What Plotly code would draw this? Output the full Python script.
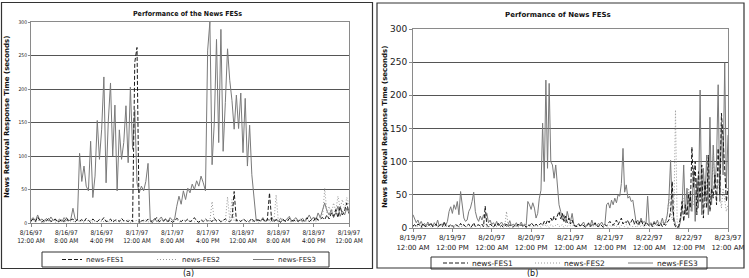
import pandas as pd
import plotly.graph_objects as go

# ---------------- data: panel (a) 8/16/97 - 8/19/97, 30-minute samples ----------------
start_a = "1997-08-16 00:00"
n_a = 145
fes1_a = [3,6,2,9,4,1,5,3,7,2,4,6,1,3,5,2,8,3,4,6,2,5,
          3,5,2,7,4,1,6,3,2,5,4,8,2,3,6,1,4,5,2,7,3,4,2,5,
          2,240,262,0,3,
          4,2,6,3,1,5,8,2,4,3,6,2,5,1,3,7,4,2,5,3,6,2,4,8,3,1,5,2,6,3,4,2,7,3,5,2,4,6,3,2,5,
          47,
          3,5,2,6,4,1,3,7,2,5,4,3,6,2,4,
          45,
          3,2,5,4,1,6,3,2,7,4,3,5,2,6,3,4,8,2,5,3,9,4,6,
          8,5,12,6,15,10,20,8,25,12,18,30,14]
fes2_a = [2,4,1,3,5,2,1,4,3,2,5,1,3,2,4,1,3,5,2,3,1,4,
          2,3,1,5,2,4,1,3,2,6,1,3,4,2,1,5,3,2,4,1,3,2,5,1,2,3,
          4,1,3,2,5,2,1,3,4,2,1,5,3,2,4,1,3,2,6,1,3,4,2,5,1,3,2,4,1,3,5,2,4,3,
          32,
          3,2,5,1,4,2,
          39,4,35,
          2,4,1,3,5,2,4,1,3,2,6,1,3,4,2,5,1,3,2,
          42,
          3,1,4,2,5,3,1,4,2,6,3,1,5,2,4,3,8,2,5,10,6,
          52,
          15,25,12,30,18,40,22,35,20,38,28]
fes3_a = [5,8,3,12,4,6,2,7,3,9,4,5,3,6,2,8,4,3,5,22,6,4,
          104,62,85,55,48,122,38,70,153,95,140,
          218,60,152,209,100,176,48,139,95,120,175,90,203,110,169,60,45,55,48,62,89,
          4,3,7,2,5,9,3,6,2,8,4,5,
          25,40,28,48,35,52,45,58,50,63,55,70,60,48,
          258,300,87,150,274,120,289,107,180,260,213,183,140,191,141,194,105,186,85,146,72,40,3,
          5,3,8,2,6,4,9,3,5,2,7,4,3,6,10,2,5,8,3,4,7,2,6,12,5,9,4,15,8,
          20,30,18,12,20,8,15,25,10,18,12,22,15]
ticks_a = ["8/16/97<br>12:00 AM", "8/16/97<br>8:00 AM", "8/16/97<br>4:00 PM",
           "8/17/97<br>12:00 AM", "8/17/97<br>8:00 AM", "8/17/97<br>4:00 PM",
           "8/18/97<br>12:00 AM", "8/18/97<br>8:00 AM", "8/18/97<br>4:00 PM",
           "8/19/97<br>12:00 AM"]

# ---------------- data: panel (b) 8/19/97 - 8/23/97, 30-minute samples ----------------
start_b = "1997-08-19 00:00"
n_b = 193
fes1_b = [3,5,2,6,4,1,7,3,2,5,4,8,2,3,6,1,4,5,2,9,3,4,2,6,3,1,5,4,2,7,3,5,2,4,6,1,3,8,2,4,5,3,6,2,
          33,
          4,2,6,3,1,5,3,7,2,4,1,3,6,2,5,3,1,4,2,6,3,5,2,4,1,
          5,3,8,4,2,6,3,5,7,4,10,6,12,8,15,10,18,12,20,25,14,22,10,18,8,15,6,12,4,3,
          2,5,3,6,4,1,3,7,2,5,4,8,3,2,6,4,1,5,3,7,10,6,4,8,12,5,9,15,6,10,8,12,5,9,14,6,10,4,8,12,6,3,9,5,
          3,6,2,8,4,5,3,7,2,6,4,9,12,25,
          70,
          8,2,0,3,15,40,10,35,20,50,30,
          122,60,100,20,85,40,95,15,70,30,110,25,60,45,80,35,120,50,173,136,90,40,60]
fes2_b = [2,4,1,3,5,2,1,4,3,2,5,1,3,2,4,1,3,5,2,3,1,4,2,3,1,5,2,4,1,3,2,6,1,3,4,2,1,5,3,2,4,1,3,2,5,1,2,3,4,1,3,2,5,2,1,3,4,
          25,
          3,1,4,2,5,2,1,3,6,2,
          4,1,3,5,2,1,4,3,2,6,
          1,3,8,2,4,1,5,3,2,4,
          6,2,3,5,1,4,2,7,3,2,
          5,1,3,4,2,6,1,3,2,5,
          4,1,3,2,6,3,1,4,2,5,
          3,1,4,2,5,3,2,6,1,4,
          3,2,5,1,4,3,2,6,1,3,
          4,2,5,1,3,6,2,4,1,3,
          5,2,8,4,10,6,15,20,45,30,
          12,20,
          178,
          10,5,15,25,45,30,20,60,25,40,35,55,30,60,45,95,50,30,65,80,40,55,110,60,45,70,50,30,60,40,25,35]
fes3_b = [20,15,8,12,5,10,4,7,3,9,5,6,2,8,4,12,3,6,5,9,4,
          10,25,32,22,35,28,40,20,55,30,15,10,12,25,30,40,54,25,15,10,18,12,20,15,22,8,12,
          5,8,4,10,3,6,9,4,7,2,5,11,3,6,4,8,2,5,9,3,6,4,
          40,35,28,38,30,15,22,45,57,158,70,223,90,218,100,95,75,95,60,35,25,12,20,8,25,15,10,22,6,2,
          4,7,3,6,9,2,5,8,3,12,4,6,3,7,5,9,4,6,
          35,38,30,42,35,45,38,50,48,67,120,54,65,45,48,40,42,27,8,12,5,15,8,10,6,48,5,
          8,4,10,6,12,3,7,15,5,9,20,45,102,30,15,5,2,0,10,30,95,20,60,15,55,25,90,10,75,30,
          208,20,90,45,110,20,167,35,125,60,100,216,40,155,80,249,60,140]
ticks_b = ["8/19/97<br>12:00 AM", "8/19/97<br>12:00 PM", "8/20/97<br>12:00 AM",
           "8/20/97<br>12:00 PM", "8/21/97<br>12:00 AM", "8/21/97<br>12:00 PM",
           "8/22/97<br>12:00 AM", "8/22/97<br>12:00 PM", "8/23/97<br>12:00 AM"]

series_names = ["news-FES1", "news-FES2", "news-FES3"]

# ---------------- build ----------------
W, H = 749, 278
def px(x): return x / W
def py(y): return 1 - y / H

t_a = pd.date_range(start_a, periods=n_a, freq="30min")
t_b = pd.date_range(start_b, periods=n_b, freq="30min")
tv_a = pd.date_range(start_a, periods=len(ticks_a), freq="8h")
tv_b = pd.date_range(start_b, periods=len(ticks_b), freq="12h")

NARROW = "Liberation Sans Narrow, DejaVu Sans Condensed, Arial Narrow, sans-serif"
DV = "DejaVu Sans, sans-serif"

styles = {
    "news-FES1": dict(color="#1a1a1a", width=1, dash="4px,2px"),
    "news-FES2": dict(color="#9a9a9a", width=1, dash="1px,2px"),
    "news-FES3": dict(color="#7a7a7a", width=1),
}

fig = go.Figure()
data_a = dict(zip(series_names, [fes1_a, fes2_a, fes3_a]))
data_b = dict(zip(series_names, [fes1_b, fes2_b, fes3_b]))
for name in ["news-FES3", "news-FES2", "news-FES1"]:
    fig.add_trace(go.Scatter(x=t_a, y=data_a[name], name=name, mode="lines",
                             line=styles[name], xaxis="x", yaxis="y", showlegend=False))
for name in ["news-FES3", "news-FES2", "news-FES1"]:
    fig.add_trace(go.Scatter(x=t_b, y=data_b[name], name=name, mode="lines",
                             line=styles[name], xaxis="x2", yaxis="y2", showlegend=False))

axis_common = dict(showline=True, linecolor="#8a8a8a", linewidth=1, mirror=True,
                   ticks="outside", tickcolor="#8a8a8a", zeroline=False, automargin=False)

fig.update_layout(
    width=W, height=H, margin=dict(l=0, r=0, t=0, b=0, autoexpand=False),
    paper_bgcolor="white", plot_bgcolor="white", showlegend=False,
    xaxis=dict(domain=[px(31), px(349)], anchor="y", type="date",
               range=[tv_a[0], tv_a[-1]], tickvals=tv_a, ticktext=ticks_a, tickangle=0,
               tickfont=dict(family=NARROW, size=6.5, color="#222"),
               ticklen=3, showgrid=False, **axis_common),
    yaxis=dict(domain=[py(223), py(22)], anchor="x", range=[0, 300], dtick=50,
               tickfont=dict(family=NARROW, size=5, color="#222"),
               ticklen=2, showgrid=True, gridcolor="#555", gridwidth=1, **axis_common),
    xaxis2=dict(domain=[px(413), px(728)], anchor="y2", type="date",
                range=[tv_b[0], tv_b[-1]], tickvals=tv_b, ticktext=ticks_b, tickangle=0,
                tickfont=dict(family=DV, size=7, color="#222"),
                ticklen=3, showgrid=False, **axis_common),
    yaxis2=dict(domain=[py(228), py(29)], anchor="x2", range=[0, 300], dtick=50,
                tickfont=dict(family=DV, size=9, color="#222"),
                ticklen=3, showgrid=True, gridcolor="#555", gridwidth=1, **axis_common),
)

shapes = [
    # panel borders
    dict(type="rect", x0=px(1.5), x1=px(372.5), y0=py(268.5), y1=py(2.5),
         line=dict(color="#333", width=1.2)),
    dict(type="rect", x0=px(377), x1=px(744), y0=py(268), y1=py(3),
         line=dict(color="#333", width=1.2)),
    # legend boxes
    dict(type="rect", x0=px(42), x1=px(329), y0=py(267), y1=py(252),
         line=dict(color="#333", width=1)),
    dict(type="rect", x0=px(431), x1=px(707), y0=py(269), y1=py(257),
         line=dict(color="#333", width=1)),
]
ann = [
    dict(text="<b>Performance of the News FESs</b>", x=px(187), y=py(14),
         font=dict(family=NARROW, size=7, color="#111")),
    dict(text="<b>Performance of News FESs</b>", x=px(558), y=py(15),
         font=dict(family=DV, size=7, color="#111")),
    dict(text="<b>News Retrieval Response Time (seconds)</b>", x=px(7), y=py(117), textangle=-90,
         font=dict(family=DV, size=7, color="#111")),
    dict(text="<b>News Retrieval Response Time (seconds)</b>", x=px(385), y=py(127), textangle=-90,
         font=dict(family=DV, size=7, color="#111")),
    dict(text="(a)", x=px(189), y=py(273.5),
         font=dict(family=DV, size=8, color="#111")),
    dict(text="(b)", x=px(532), y=py(273.5),
         font=dict(family=DV, size=8, color="#111")),
]

# manual legends: (sample x0, sample x1, text x) per series
leg_a = dict(y=259.5, size=7, items=[(62, 82, 84), (157, 178, 180), (253, 274, 276)])
leg_b = dict(y=263, size=7.5, items=[(443, 468, 470), (535, 560, 562), (628, 653, 655)])
for leg in (leg_a, leg_b):
    for name, (s0, s1, tx) in zip(series_names, leg["items"]):
        st = styles[name]
        shapes.append(dict(type="line", x0=px(s0), x1=px(s1), y0=py(leg["y"]), y1=py(leg["y"]),
                           line=dict(color=st["color"], width=1, dash=st.get("dash", "solid"))))
        ann.append(dict(text=name, x=px(tx), y=py(leg["y"]), xanchor="left",
                        font=dict(family=DV, size=leg["size"], color="#222")))

for s in shapes:
    s.update(xref="paper", yref="paper")
for a in ann:
    a.update(xref="paper", yref="paper", showarrow=False)
    a.setdefault("xanchor", "center")
    a.setdefault("yanchor", "middle")
fig.update_layout(shapes=shapes, annotations=ann)

fig.write_html("out.html")
